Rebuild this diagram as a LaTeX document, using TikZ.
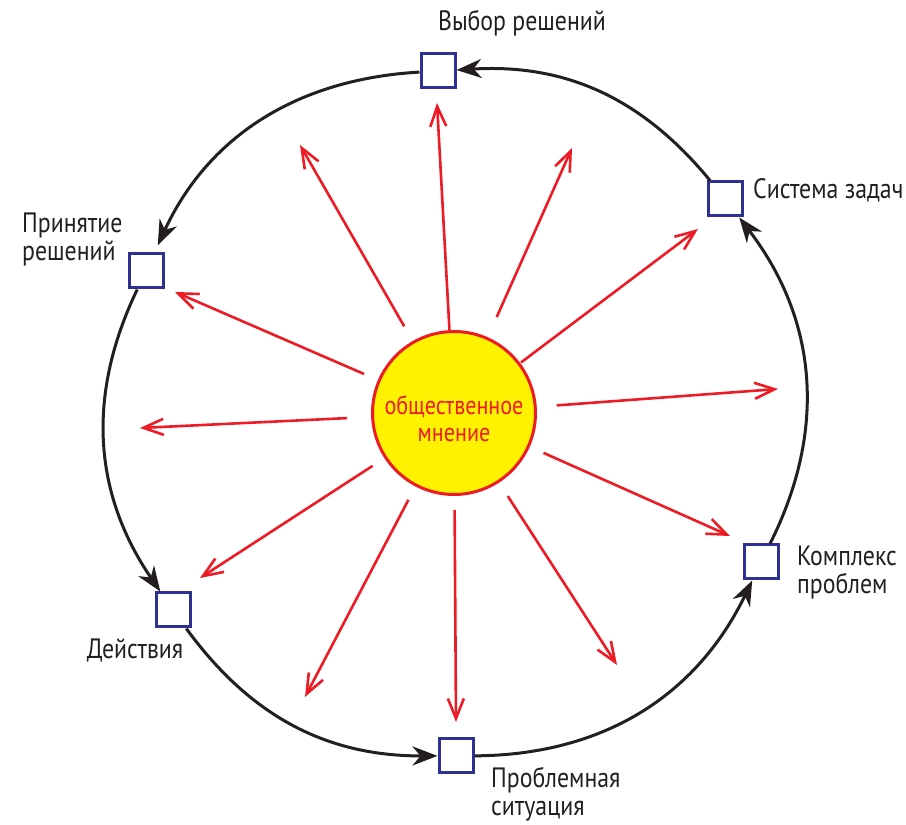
\documentclass[tikz,border=0pt]{standalone}
\usepackage{fontspec}
\setmainfont{PT Sans}[FakeStretch=0.85]
\usetikzlibrary{arrows.meta, positioning}

\definecolor{sqblue}{RGB}{46,49,146}
\definecolor{sunred}{RGB}{237,28,36}
\definecolor{sunyellow}{RGB}{255,242,0}
\definecolor{loopblack}{RGB}{35,31,32}

\begin{document}
\begin{tikzpicture}[x=1pt, y=1pt,
        stage/.style={rectangle, draw=sqblue, line width=3pt, fill=white, minimum size=34pt, inner sep=0pt},
        caption/.style={font=\fontsize{28}{28}\selectfont, text=loopblack, align=left, inner sep=0pt},
        flow/.style={loopblack, line width=3pt, -{Stealth[length=25pt, width=19pt, inset=8pt]}},
        ray/.style={sunred, line width=2.6pt, -{Straight Barb[length=20pt, width=16pt]}}]
    \useasboundingbox (0,0) rectangle (906,825);

    % sun in the middle
    \node[circle, draw=sunred, line width=3pt, fill=sunyellow, minimum size=163pt] (sun) at (454,412) {};
    \node[text=sunred, align=center, inner sep=0pt, font=\fontsize{26}{27}\selectfont] (suntxt) at ([yshift=-6pt]sun.center) {общественное\\мнение};

    % stages of the cycle
    \node[stage] (vyb) at (438,754) {};
    \node[stage] (sys) at (725,626) {};
    \node[stage] (prin) at (146,554) {};
    \node[stage] (deis) at (173,215) {};
    \node[stage] (probl) at (456,69) {};
    \node[stage] (kompl) at (761,263) {};

    \node[caption] (vybtxt) at (522,802) {Выбор решений};
    \node[caption, anchor=west] (systxt) at (753,635) {Система задач};
    \node[caption, anchor=west] (printxt) at (22,585) {Принятие\\решений};
    \node[caption] (deistxt) at (135,175) {Действия};
    \node[caption, anchor=west] (probltxt) at (491,31) {Проблемная\\ситуация};
    \node[caption, anchor=west] (kompltxt) at (797,252) {Комплекс\\проблем};

    % cycle
    \draw[flow] (sys) to[bend right=27] (vyb);
    \draw[flow, shorten >=8pt] (vyb) to[bend right=31] (prin);
    \draw[flow] (prin) to[bend right=30] (deis);
    \draw[flow] (deis) to[bend right=27] (probl);
    \draw[flow] (probl) to[bend right=32] (kompl);
    \draw[flow] (kompl) to[bend right=32] (sys);

    % rays
    \coordinate (r1) at (437,722);
    \coordinate (r2) at (572,677);
    \coordinate (r3) at (698,596);
    \coordinate (r4) at (778,436);
    \coordinate (r5) at (730,289);
    \coordinate (r6) at (617,160);
    \coordinate (r7) at (456,103);
    \coordinate (r8) at (305,128);
    \coordinate (r9) at (200,247);
    \coordinate (r10) at (140,397);
    \coordinate (r11) at (175,533);
    \coordinate (r12) at (300,680);
    \foreach \i/\gap in {1/0, 2/22, 3/1, 4/20, 5/15, 6/16, 7/14, 8/15, 9/14, 10/24, 11/15, 12/17}
        \draw[ray, shorten <=\gap pt] (sun) -- (r\i);
\end{tikzpicture}
\end{document}
